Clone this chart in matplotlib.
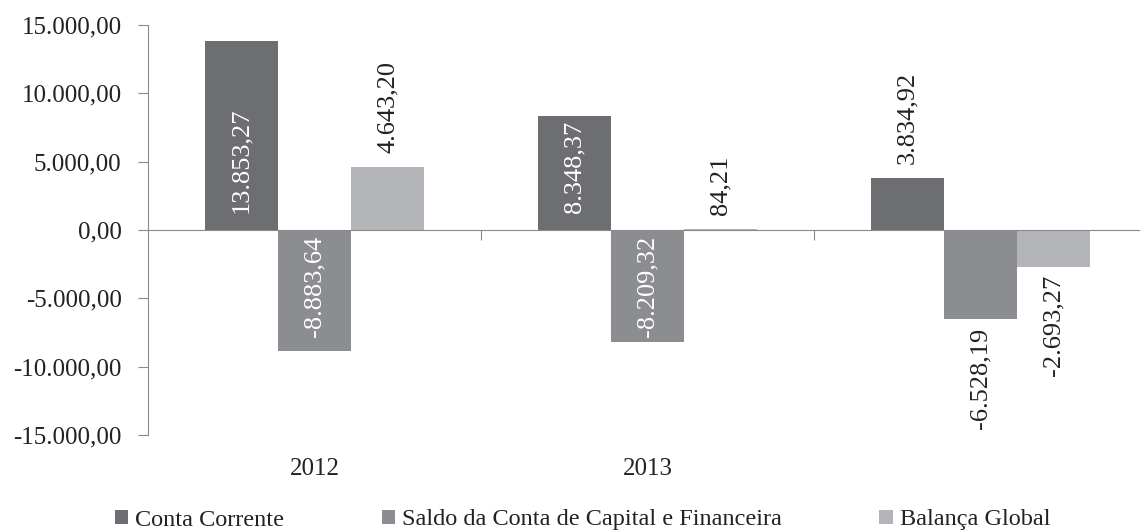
import numpy as np
import matplotlib.pyplot as plt
from matplotlib.patches import Patch

plt.rcParams['font.family'] = ['Liberation Serif', 'DejaVu Serif']

# Data
categories = ['2012', '2013', '']
series_names = ['Conta Corrente', 'Saldo da Conta de Capital e Financeira', 'Balança Global']
conta_corrente = [13853.27, 8348.37, 3834.92]
saldo_capital = [-8883.64, -8209.32, -6528.19]
balanca_global = [4643.20, 84.21, -2693.27]
y_ticks = [15000, 10000, 5000, 0, -5000, -10000, -15000]

colors = ['#6d6e71', '#8c8d90', '#b4b5b8']


def fmt_br(v):
    s = f"{v:,.2f}"
    return s.replace(',', 'X').replace('.', ',').replace('X', '.')


fig = plt.figure(figsize=(11.4, 5.31), dpi=100)
ax = fig.add_axes([148 / 1140, 1 - 435 / 531, 992 / 1140, 410 / 531])

x = np.arange(len(categories))
w = 0.22
series = [conta_corrente, saldo_capital, balanca_global]
# which labels sit inside the bar (white) vs outside (black)
inside = [[True, True, False], [True, True, False], [False, False, False]]
lbl_size = 19

for i, vals in enumerate(series):
    xs = x + (i - 1) * w
    ax.bar(xs, vals, width=w, color=colors[i], edgecolor='none', zorder=2)
    for j, (xx, v) in enumerate(zip(xs, vals)):
        if inside[i][j]:
            if v >= 0:
                ax.annotate(fmt_br(v), (xx, 0), xytext=(0, 12), textcoords='offset points',
                            rotation=90, ha='center', va='bottom', color='white', fontsize=lbl_size)
            else:
                ax.annotate(fmt_br(v), (xx, 0), xytext=(0, -4), textcoords='offset points',
                            rotation=90, ha='center', va='top', color='white', fontsize=lbl_size)
        else:
            if v >= 0:
                ax.annotate(fmt_br(v), (xx, v), xytext=(0, 10), textcoords='offset points',
                            rotation=90, ha='center', va='bottom', color='#222222', fontsize=lbl_size)
            else:
                ax.annotate(fmt_br(v), (xx, v), xytext=(0, -6), textcoords='offset points',
                            rotation=90, ha='center', va='top', color='#222222', fontsize=lbl_size)

ax.set_xlim(-0.5, -0.5 + 992 / 333)
ax.set_ylim(-15000, 15000)
ax.set_yticks(y_ticks)
ax.set_yticklabels([fmt_br(t) for t in y_ticks], fontsize=18, color='#222222')

for s in ['top', 'right']:
    ax.spines[s].set_visible(False)
ax.spines['bottom'].set_position(('data', 0))
ax.spines['bottom'].set_color('#8a8a8a')
ax.spines['left'].set_color('#8a8a8a')
ax.tick_params(axis='y', length=7, color='#8a8a8a', pad=12)
ax.set_xticks([0.5, 1.5])
ax.set_xticklabels([])
ax.tick_params(axis='x', length=7, color='#8a8a8a', direction='out')

for xi, c in zip(x, categories):
    ax.text(xi, -16700, c, ha='center', va='top', fontsize=18, color='#222222')

handles = [Patch(facecolor=c, edgecolor='none') for c in colors]
fig.legend(handles, series_names, loc='center', bbox_to_anchor=(0.511, 1 - 520 / 531), ncol=3,
           frameon=False, prop={'family': 'Liberation Serif', 'size': 17.5},
           handlelength=0.55, handleheight=0.55, handletextpad=0.3, columnspacing=4.0,
           borderpad=0.1, labelcolor='#222222')

fig.savefig('out.png', dpi=100)
